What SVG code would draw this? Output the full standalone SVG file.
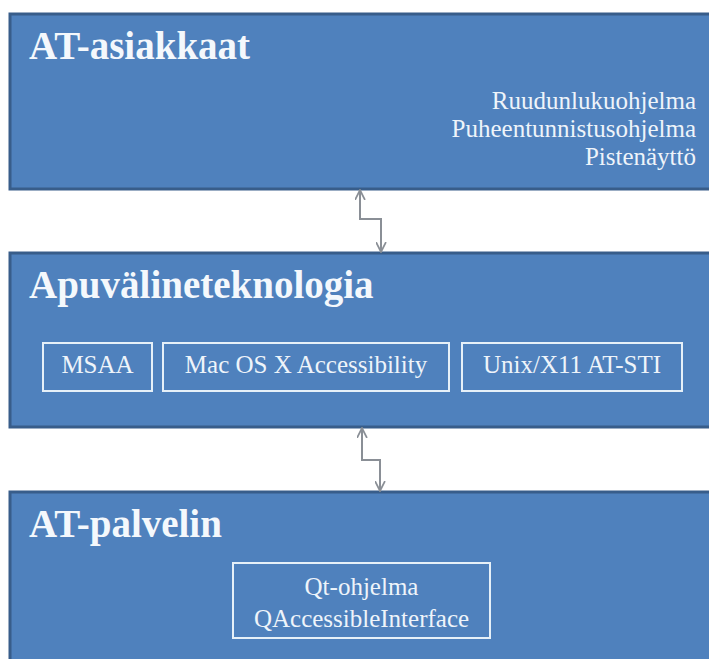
<svg xmlns="http://www.w3.org/2000/svg" width="709" height="659" viewBox="0 0 709 659">
<defs>
<style>
.big{fill:#4f81bd;stroke:#385d8a;stroke-width:3}
.sub{fill:none;stroke:#e6f0f8;stroke-width:2}
.conn{fill:none;stroke:#8a8f96;stroke-width:2}
.title{font-family:"Liberation Serif","Times New Roman",serif;font-weight:bold;font-size:39px;fill:#f4f8fc}
.lbl{font-family:"Liberation Serif","Times New Roman",serif;font-size:25px;fill:#eef4fa}
</style>
<marker id="ah" viewBox="0 0 10 10" refX="9" refY="5" markerWidth="11" markerHeight="11" markerUnits="userSpaceOnUse" orient="auto-start-reverse">
<path d="M0,0.5 L9,5 L0,9.5" fill="none" stroke="#8a8f96" stroke-width="1.6"/>
</marker>
</defs>
<rect width="709" height="659" fill="#ffffff"/>
<g id="at-asiakkaat">
<rect class="big" x="10" y="14" width="710" height="175"/>
<text class="title" x="29" y="59">AT-asiakkaat</text>
<text class="lbl" x="696" y="109" text-anchor="end">Ruudunlukuohjelma</text>
<text class="lbl" x="696" y="137" text-anchor="end">Puheentunnistusohjelma</text>
<text class="lbl" x="696" y="165" text-anchor="end">Pistenäyttö</text>
</g>
<g id="apuvalineteknologia">
<rect class="big" x="10" y="253" width="710" height="174"/>
<text class="title" x="29" y="298">Apuvälineteknologia</text>
<g id="msaa">
<rect class="sub" x="43" y="343" width="109" height="48"/>
<text class="lbl" x="97.5" y="373" text-anchor="middle">MSAA</text>
</g>
<g id="macos">
<rect class="sub" x="163" y="343" width="286" height="48"/>
<text class="lbl" x="306" y="373" text-anchor="middle">Mac OS X Accessibility</text>
</g>
<g id="unix">
<rect class="sub" x="462" y="343" width="220" height="48"/>
<text class="lbl" x="572" y="373" text-anchor="middle">Unix/X11 AT-STI</text>
</g>
</g>
<g id="at-palvelin">
<rect class="big" x="10" y="492" width="710" height="190"/>
<text class="title" x="29" y="537">AT-palvelin</text>
<g id="qt">
<rect class="sub" x="233" y="563" width="257" height="75"/>
<text class="lbl" x="361.5" y="595" text-anchor="middle">Qt-ohjelma</text>
<text class="lbl" x="361.5" y="627" text-anchor="middle">QAccessibleInterface</text>
</g>
</g>
<g id="connectors">
<path class="conn" d="M360,190 V219 H381 V252" marker-start="url(#ah)" marker-end="url(#ah)"/>
<path class="conn" d="M362,428 V460 H380 V491" marker-start="url(#ah)" marker-end="url(#ah)"/>
</g>
</svg>
